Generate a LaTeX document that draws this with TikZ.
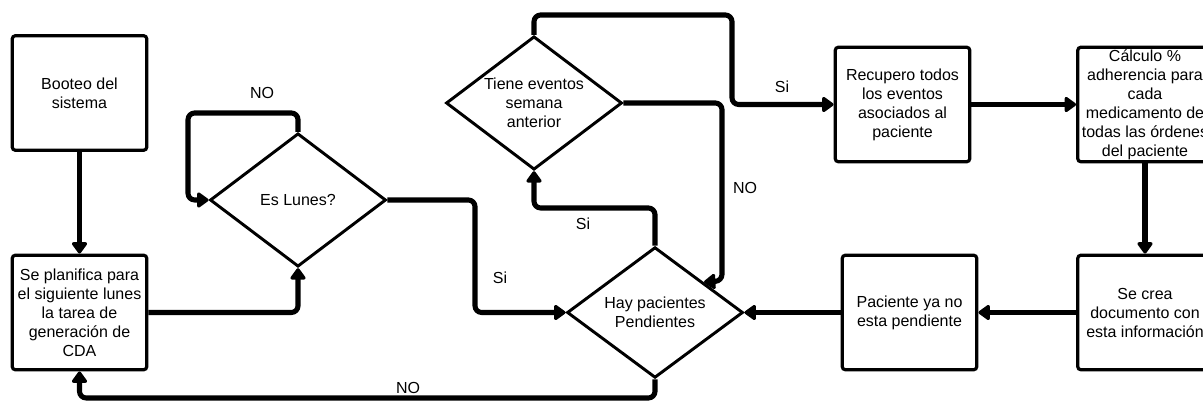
\documentclass[tikz,border=0pt]{standalone}
\usepackage{fontspec}
\setmainfont{Liberation Sans}
\usetikzlibrary{shapes.geometric,arrows.meta}

\begin{document}
\begin{tikzpicture}[x=0.75pt,y=-0.75pt,
  every node/.style={font=\fontsize{12}{14.25}\selectfont, align=center},
  stepbox/.style={draw, line width=2.4pt, rounded corners=2.5pt,
    minimum width=101pt, minimum height=86pt, inner sep=1pt},
  choice/.style={draw, diamond, line width=2.2pt, inner sep=0pt,
    shape aspect=1.32, minimum width=132pt, minimum height=100pt},
  flow/.style={line width=3.8pt, rounded corners=5pt,
    -{Triangle[length=9.5pt,width=13pt,round]}},
  tag/.style={inner sep=1pt}
]
\clip (0,0) rectangle (1203,402);
\fill[white] (0,0) rectangle (1203,402);

% process boxes
\node[stepbox] (boot) at (79.5,93) {Booteo del\\sistema};
\node[stepbox] (plan) at (79.5,312.5) {Se planifica para\\el siguiente lunes\\la tarea de\\generación de\\CDA};
\node[stepbox] (fetch) at (902.5,104.5) {Recupero todos\\los eventos\\asociados al\\paciente};
\node[stepbox] (calc) at (1145,104.5) {Cálculo \%\\adherencia para\\cada\\medicamento de\\todas las órdenes\\del paciente};
\node[stepbox] (doc) at (1145,312.5) {Se crea\\documento con\\esta información};
\node[stepbox] (done) at (909.5,312.5) {Paciente ya no\\esta pendiente};

% decisions
\node[choice] (lunes) at (298,200) {Es Lunes?};
\node[choice, minimum height=98pt] (hay) at (655,312.5) {Hay pacientes\\Pendientes};
\node[choice] (tiene) at (534,103) {Tiene eventos\\semana\\anterior};

% free end of the NO branch, on the upper right edge of "hay"
\coordinate (hayne) at (704,282);

% connectors
\draw[flow] (boot.south) -- (plan.north);
\draw[flow] (plan.east) -| (lunes.south);
\draw[flow] (lunes.north) -- (298,113) -- (188,113) -- (188,200) -- (lunes.west);
\draw[flow] (lunes.east) -- (475,200) -- (475,312.5) -- (hay.west);
\draw[flow] (hay.south) -- (655,398) -- (79.5,398) -- (plan.south);
\draw[flow] (hay.north) -- (655,208) -- (534,208) -- (tiene.south);
\draw[flow] (tiene.north) -- (534,15) -- (732,15) -- (732,104.5) -- (fetch.west);
\draw[flow] (tiene.east) -- (722,103) -- (722,281) -- (hayne);
\draw[flow] (fetch.east) -- (calc.west);
\draw[flow] (calc.south) -- (doc.north);
\draw[flow] (doc.west) -- (done.east);
\draw[flow] (done.west) -- (hay.east);

% branch labels
\node[tag] (l1) at (262,93) {NO};
\node[tag] (l2) at (500,278) {Si};
\node[tag] (l3) at (408,388) {NO};
\node[tag] (l4) at (583,224) {Si};
\node[tag] (l5) at (782,87) {Si};
\node[tag] (l6) at (745,188) {NO};
\end{tikzpicture}
\end{document}
